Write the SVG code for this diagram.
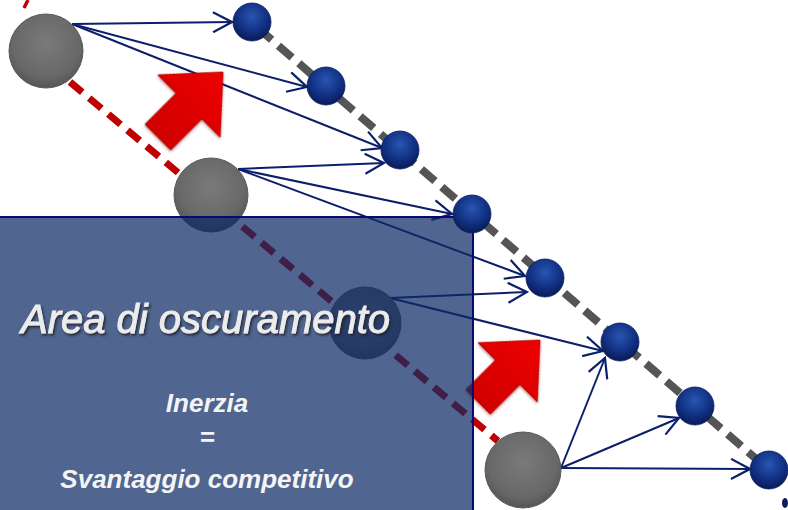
<svg xmlns="http://www.w3.org/2000/svg" width="788" height="510" viewBox="0 0 788 510">
<defs>
<radialGradient id="gGray" cx="50%" cy="40%" r="60%">
<stop offset="0" stop-color="#7a7a7a"/>
<stop offset="0.75" stop-color="#686868"/>
<stop offset="1" stop-color="#555555"/>
</radialGradient>
<radialGradient id="gBlue" cx="50%" cy="35%" r="62%">
<stop offset="0" stop-color="#2a55b0"/>
<stop offset="0.6" stop-color="#123387"/>
<stop offset="1" stop-color="#0a1d5c"/>
</radialGradient>
<linearGradient id="gRed" x1="0" y1="0" x2="0" y2="1">
<stop offset="0" stop-color="#ee0000"/>
<stop offset="1" stop-color="#d00000"/>
</linearGradient>
<marker id="arr" markerUnits="userSpaceOnUse" viewBox="0 0 22 22" refX="20" refY="11" markerWidth="22" markerHeight="22" orient="auto">
<path d="M1,1 L20,11 L1,21" fill="none" stroke="#0b1f6b" stroke-width="2.2"/>
</marker>
<filter id="shadow" x="-10%" y="-10%" width="130%" height="140%">
<feDropShadow dx="1.5" dy="2" stdDeviation="1.2" flood-color="#1a1a2a" flood-opacity="0.85"/>
</filter>
<filter id="soft" x="-20%" y="-20%" width="140%" height="140%">
<feDropShadow dx="1" dy="1" stdDeviation="1.5" flood-color="#700000" flood-opacity="0.5"/>
</filter>
<path id="redArrow" d="M0,0 L44,48 L18,48 L18,92 L-18,92 L-18,48 L-44,48 Z"/>
</defs>
<style>
.gray{fill:url(#gGray);stroke:#5a5a5a;stroke-width:1}
.blue{fill:url(#gBlue);stroke:#0a1d5c;stroke-width:0.8}
.conn{stroke:#0b1f6b;stroke-width:2;fill:none;marker-end:url(#arr)}
.redArr{fill:url(#gRed);stroke:#b00000;stroke-width:1;filter:url(#soft)}
.title{font-family:"Liberation Sans",Arial,sans-serif;font-style:italic;font-size:40px;fill:#ececec;stroke:#ececec;stroke-width:0.9;filter:url(#shadow)}
.sub{font-family:"Liberation Sans",Arial,sans-serif;font-style:italic;font-weight:bold;font-size:26px;fill:#f4f4f4;text-anchor:middle}
</style>
<rect width="788" height="510" fill="#ffffff"/>
<path d="M28,0 L24,8" stroke="#c00000" stroke-width="3.5"/>
<g id="tracks">
<line x1="70" y1="82" x2="498" y2="441" stroke="#c00000" stroke-width="7" stroke-dasharray="16,9"/>
<line x1="258" y1="28" x2="769" y2="470" stroke="#555555" stroke-width="8" stroke-dasharray="18,9"/>
</g>
<g id="connectors">
<line class="conn" x1="72" y1="24" x2="232" y2="22"/>
<line class="conn" x1="72" y1="24" x2="307" y2="87"/>
<line class="conn" x1="72" y1="24" x2="382" y2="148"/>
<line class="conn" x1="238" y1="169" x2="384" y2="163"/>
<line class="conn" x1="238" y1="169" x2="452" y2="214"/>
<line class="conn" x1="238" y1="169" x2="525" y2="276"/>
<line class="conn" x1="390" y1="298" x2="527" y2="292"/>
<line class="conn" x1="390" y1="298" x2="603" y2="351"/>
<line class="conn" x1="561" y1="468" x2="605" y2="358"/>
<line class="conn" x1="561" y1="468" x2="679" y2="418"/>
<line class="conn" x1="561" y1="468" x2="750" y2="469"/>
</g>
<g id="bigArrow1"><use href="#redArrow" class="redArr" transform="translate(223,72) rotate(45)"/></g>
<g id="bigArrow2"><use href="#redArrow" class="redArr" transform="translate(540,340) rotate(45) scale(0.95)"/></g>
<g id="G1"><circle class="gray" cx="46" cy="51" r="37"/></g>
<g id="G2"><circle class="gray" cx="211" cy="195" r="37"/></g>
<g id="G3"><circle class="gray" cx="365" cy="323" r="36"/></g>
<g id="G4"><circle class="gray" cx="523" cy="470" r="38"/></g>
<g id="area">
<rect x="-2" y="217" width="475" height="300" fill="rgb(12,41,100)" fill-opacity="0.72" stroke="#0a0a6e" stroke-width="2"/>
</g>
<g id="B1"><circle class="blue" cx="252" cy="22" r="19"/></g>
<g id="B2"><circle class="blue" cx="326" cy="86" r="19"/></g>
<g id="B3"><circle class="blue" cx="400" cy="150" r="19"/></g>
<g id="B4"><circle class="blue" cx="472" cy="214" r="19"/></g>
<g id="B5"><circle class="blue" cx="545" cy="278" r="19"/></g>
<g id="B6"><circle class="blue" cx="620" cy="342" r="19"/></g>
<g id="B7"><circle class="blue" cx="695" cy="406" r="19"/></g>
<g id="B8"><circle class="blue" cx="769" cy="470" r="19"/></g>
<ellipse cx="785" cy="503" rx="3" ry="5" fill="#0a1d5c"/>
<g id="labels">
<text class="title" x="21" y="333">Area di oscuramento</text>
<text class="sub" x="207" y="412">Inerzia</text>
<text class="sub" x="207" y="446">=</text>
<text class="sub" x="207" y="488">Svantaggio competitivo</text>
</g>
</svg>
